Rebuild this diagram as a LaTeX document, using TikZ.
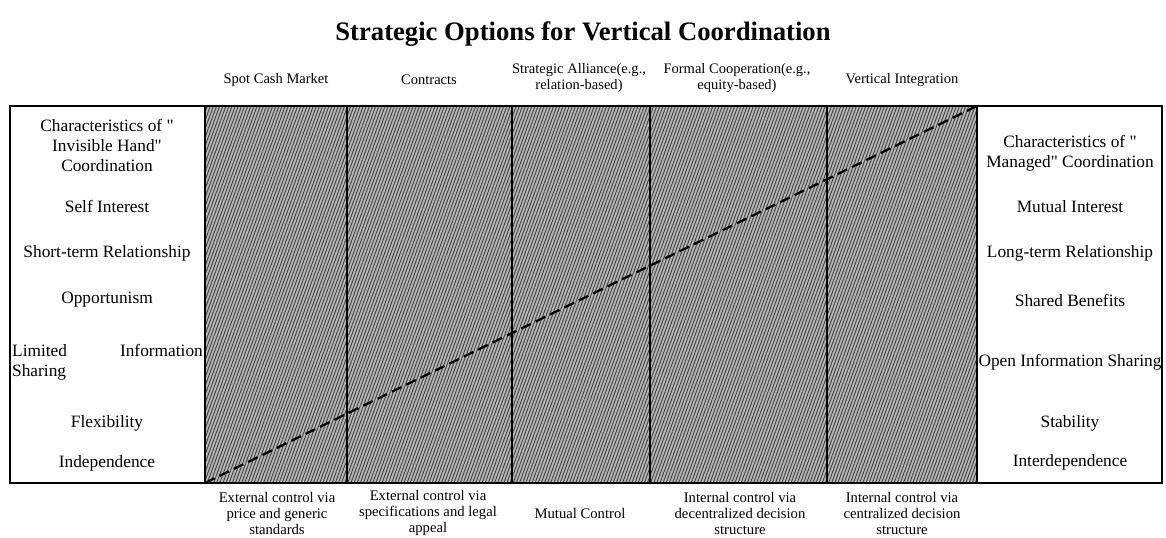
\documentclass[tikz,border=0pt]{standalone}
\usepackage{fontspec}
\setmainfont{Liberation Serif}[Ligatures=TeXOff]
\usetikzlibrary{patterns.meta}

\tikzset{
  trait/.style={align=center,font=\fontsize{13}{15}\selectfont},
  option/.style={align=center,font=\fontsize{10.9}{12.3}\selectfont},
  control/.style={align=center,font=\fontsize{11}{12}\selectfont},
  divider/.style={line width=1.6pt},
  trend/.style={line width=1.7pt,dash pattern=on 8pt off 4pt}
}

\begin{document}
\begin{tikzpicture}[x=0.75pt,y=-0.75pt]
\useasboundingbox (0,0) rectangle (1166,538);

\node (title) [font=\bfseries\fontsize{20}{24}\selectfont] at (583,34) {Strategic Options for Vertical Coordination};

% the options
\node (spot) [option] at (276,80) {Spot Cash Market};
\node (contracts) [option] at (429,80) {Contracts};
\node (alliance) [option] at (579,78) {Strategic Alliance(e.g.,\\relation-based)};
\node (formal) [option] at (737,78) {Formal Cooperation(e.g.,\\equity-based)};
\node (integr) [option] at (902,80) {Vertical Integration};

% hatched band
\fill [black!28] (205,106) rectangle (977,483);
\fill [pattern={Lines[angle=70,distance=2.2pt,line width=0.75pt]},pattern color=black!72] (205,106) rectangle (977,483);
\draw [divider] (205,106) -- (205,483);
\draw [divider] (347,106) -- (347,483);
\draw [divider] (512,106) -- (512,483);
\draw [divider] (650,106) -- (650,483);
\draw [divider] (827,106) -- (827,483);
\draw [divider] (977,106) -- (977,483);
\draw [line width=2.2pt] (10,106) rectangle (1162,483);

\coordinate (lo) at (205,483);
\coordinate (hi) at (977,106);
\draw [trend] (lo) -- (hi);

% invisible hand side
\node (lhead) [trait] at (107,145) {Characteristics of "\\Invisible Hand"\\Coordination};
\node (self) [trait] at (107,206) {Self Interest};
\node (short) [trait] at (107,253) {Short-term Relationship};
\node (opport) [trait] at (107,300) {Opportunism};
\node (limited) [trait,text width=143pt,align=left,inner sep=0pt] at (107.5,362) {Limited\hfill Information\\Sharing};
\node (flex) [trait] at (107,423) {Flexibility};
\node (indep) [trait] at (107,463) {Independence};

% managed side
\node (rhead) [trait] at (1070,153.5) {Characteristics of "\\Managed" Coordination};
\node (mutual) [trait] at (1070,207) {Mutual Interest};
\node (long) [trait] at (1070,253) {Long-term Relationship};
\node (shared) [trait] at (1070,300) {Shared Benefits};
\node (open) [trait,inner sep=0pt] at (1070,362) {Open Information Sharing};
\node (stab) [trait] at (1070,423) {Stability};
\node (interdep) [trait] at (1070,462) {Interdependence};

% kinds of control
\node (ctrlspot) [control] at (277,513) {External control via\\price and generic\\standards};
\node (ctrlcontr) [control] at (428,513) {External control via\\specifications and legal\\appeal};
\node (ctrlmutual) [control] at (580,513) {Mutual Control};
\node (ctrldecen) [control] at (740,513) {Internal control via\\decentralized decision\\structure};
\node (ctrlcent) [control] at (902,513) {Internal control via\\centralized decision\\structure};
\end{tikzpicture}
\end{document}
